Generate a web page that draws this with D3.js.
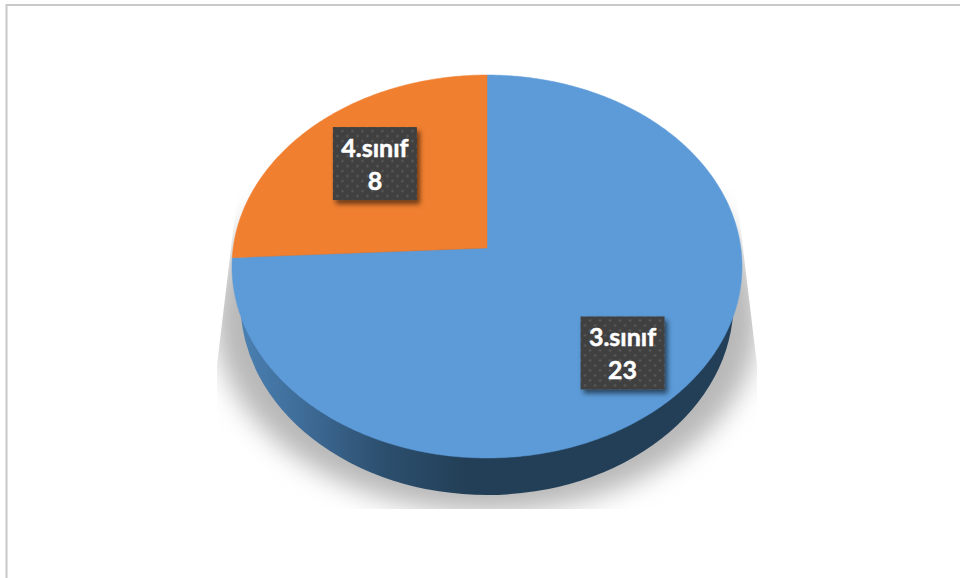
<!DOCTYPE html>
<html><head><meta charset="utf-8">
<script src="https://cdnjs.cloudflare.com/ajax/libs/d3/7.8.5/d3.min.js"></script>
<style>html,body{margin:0;padding:0;background:#fff;overflow:hidden}svg{display:block}</style>
</head><body><svg id="c" width="960" height="578"></svg>
<script>
const categories = ["3.sınıf", "4.sınıf"];
const values = [23, 8];
const colors = ["#5c9bd8", "#f07f30"];

const svg = d3.select("#c");
const defs = svg.append("defs");

// frame (only the top and left edges are in view)
svg.append("path").attr("d", "M6.5,578V5H960").attr("fill", "none").attr("stroke", "#c9c9c9").attr("stroke-width", 2);

// perspective projection of the pie's top face
const apex = {x: 487, y: 248}, sx = 253.8, sy = 189.7, k = 0.0966;
const project = (a, f) => {
  const u = Math.sin(a) * f, v = Math.cos(a) * f, d = 1 + k * v;
  return [apex.x + sx * u / d, apex.y - sy * v / d];
};
const pie = d3.pie().sort(null)(values);
const line = d3.line();
const wedge = p => {
  const n = Math.ceil((p.endAngle - p.startAngle) / 0.01);
  const pts = d3.range(n + 1).map(i => project(p.startAngle + (p.endAngle - p.startAngle) * i / n, 1));
  return line([[apex.x, apex.y], ...pts]) + "Z";
};

// ground shadow
const blur = defs.append("filter").attr("id", "blur").attr("x", "-20%").attr("y", "-20%").attr("width", "140%").attr("height", "140%");
blur.append("feGaussianBlur").attr("stdDeviation", 13);
defs.append("clipPath").attr("id", "shadowClip").append("path").attr("d", "M238,190L217,365V509H757V365L736,190Z");
svg.append("g").attr("clip-path", "url(#shadowClip)")
  .append("ellipse").attr("cx", 487).attr("cy", 318).attr("rx", 272).attr("ry", 194)
  .attr("fill", "#b8b8b8").attr("filter", "url(#blur)");

// side wall
const wall = defs.append("linearGradient").attr("id", "wall").attr("gradientUnits", "userSpaceOnUse")
  .attr("x1", 240).attr("x2", 740).attr("y1", 0).attr("y2", 0);
[[0, "#4a80b2"], [0.12, "#3f6d99"], [0.28, "#2d5070"], [0.45, "#233f57"], [1, "#233f57"]]
  .forEach(s => wall.append("stop").attr("offset", s[0]).attr("stop-color", s[1]));
svg.append("ellipse").attr("cx", 487).attr("cy", 303).attr("rx", 246.5).attr("ry", 192).attr("fill", "url(#wall)");

// top face
svg.selectAll("path.slice").data(pie).join("path").attr("class", "slice")
  .attr("d", wedge).attr("fill", (d, i) => colors[i]).attr("stroke", (d, i) => colors[i]).attr("stroke-width", 0.5);

// labels
const pat = defs.append("pattern").attr("id", "dots").attr("patternUnits", "userSpaceOnUse").attr("width", 10).attr("height", 10);
pat.append("rect").attr("width", 10).attr("height", 10).attr("fill", "#3f3f3f");
[[2.5, 2.5], [7.5, 7.5]].forEach(c => pat.append("circle").attr("cx", c[0]).attr("cy", c[1]).attr("r", 1.2).attr("fill", "#5c5c5c"));
const ds = defs.append("filter").attr("id", "ds").attr("x", "-20%").attr("y", "-20%").attr("width", "140%").attr("height", "140%");
ds.append("feDropShadow").attr("dx", 3).attr("dy", 4).attr("stdDeviation", 2.5).attr("flood-color", "#000").attr("flood-opacity", 0.55);

const labelFrac = [0.7, 0.65], labelDx = [0.5, 2.5], labelDy = [9, -3], boxW = 84, boxH = 73;
const labels = svg.selectAll("g.lab").data(pie).join("g").attr("class", "lab")
  .attr("transform", (d, i) => {
    const [x, y] = project((d.startAngle + d.endAngle) / 2, labelFrac[i]);
    return `translate(${x + labelDx[i]},${y + labelDy[i]})`;
  });
labels.append("rect").attr("x", -boxW / 2).attr("y", -boxH / 2).attr("width", boxW).attr("height", boxH)
  .attr("fill", "url(#dots)").attr("filter", "url(#ds)");
labels.append("text").attr("text-anchor", "middle").attr("y", -7).text((d, i) => categories[i]);
labels.append("text").attr("text-anchor", "middle").attr("y", 26).text(d => d.value);
labels.selectAll("text").attr("fill", "#fff").attr("stroke", "#fff").attr("stroke-width", 0.5)
  .attr("font-family", "Lato, sans-serif").attr("font-weight", 700).attr("font-size", 25);
</script></body></html>
